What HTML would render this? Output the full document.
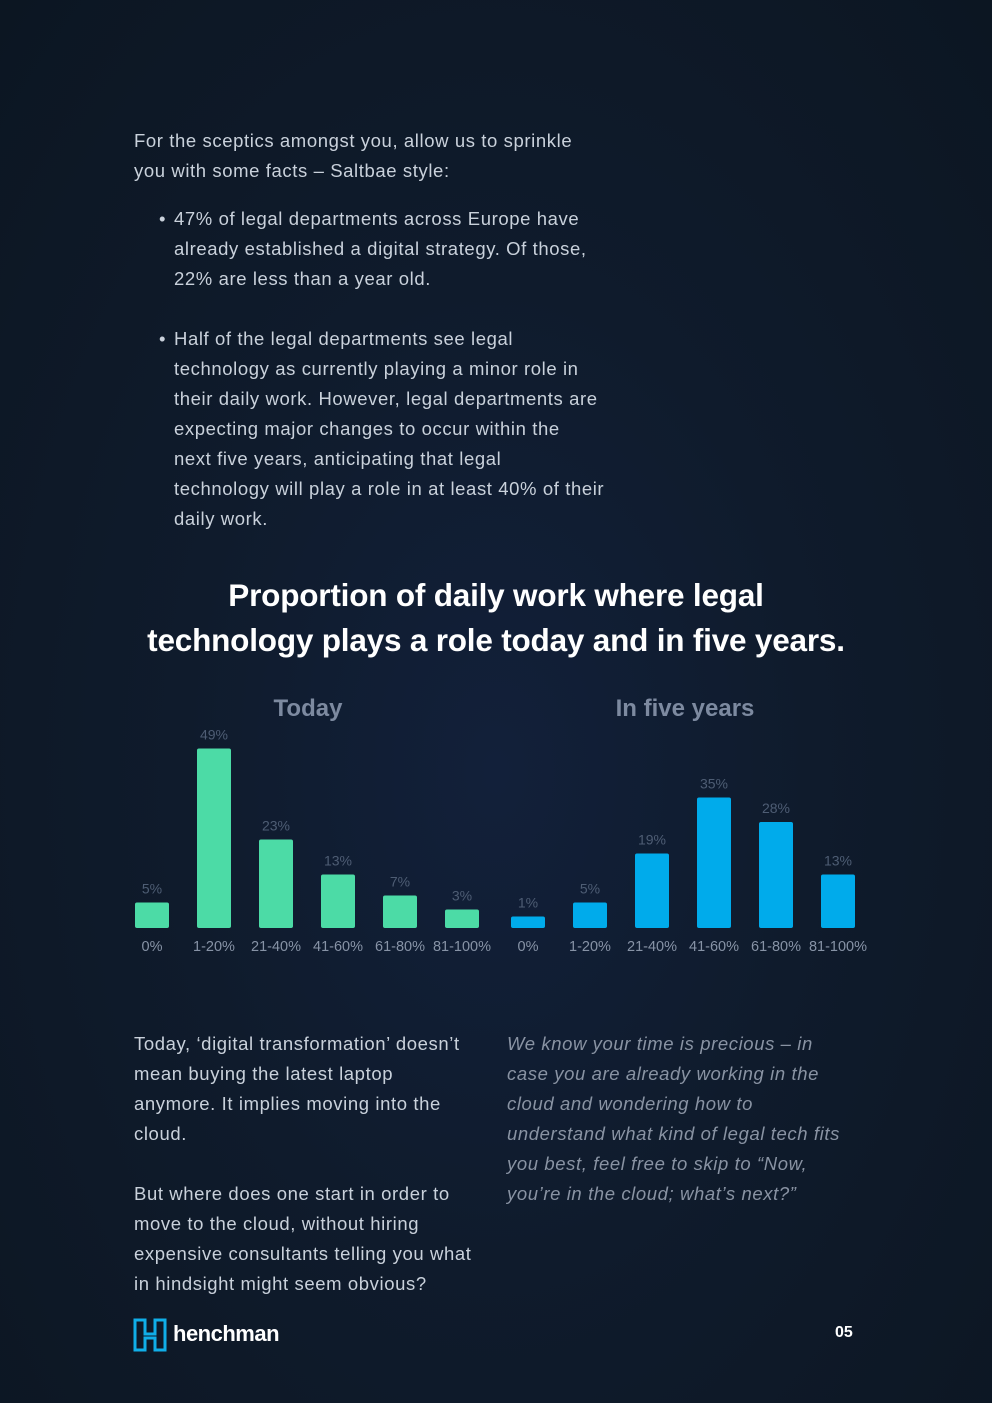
<!DOCTYPE html>
<html><head><meta charset="utf-8"><style>
body{margin:0;width:992px;height:1403px;overflow:hidden;background:radial-gradient(ellipse at 50% 55%,#12203a 0%,#0f1b2c 45%,#0c1622 100%);font-family:"Liberation Sans",sans-serif;color:#c9d1db;position:relative}
.t{position:absolute;font-size:18.5px;line-height:30px;letter-spacing:0.6px;white-space:nowrap}
ul{margin:0;padding:0;list-style:none}
li{position:relative}
li:before{content:"•";position:absolute;left:-15px}
h1{position:absolute;left:0;width:992px;top:573px;margin:0;text-align:center;color:#fff;font-size:31.5px;line-height:45px;font-weight:bold;letter-spacing:-0.2px}
.it{font-style:italic;color:#8993a3}
</style></head><body>
<div class="t" style="left:134px;top:126px">For the sceptics amongst you, allow us to sprinkle<br>you with some facts – Saltbae style:</div>
<ul class="t" style="left:174px;top:204px">
<li>47% of legal departments across Europe have<br>already established a digital strategy. Of those,<br>22% are less than a year old.</li>
<li style="margin-top:30px">Half of the legal departments see legal<br>technology as currently playing a minor role in<br>their daily work. However, legal departments are<br>expecting major changes to occur within the<br>next five years, anticipating that legal<br>technology will play a role in at least 40% of their<br>daily work.</li>
</ul>
<h1>Proportion of daily work where legal<br>technology plays a role today and in five years.</h1>
<svg id="chart" width="992" height="300" style="position:absolute;left:0;top:680px" font-family="Liberation Sans, sans-serif"></svg>
<div class="t" style="left:134px;top:1029px">Today, ‘digital transformation’ doesn’t<br>mean buying the latest laptop<br>anymore. It implies moving into the<br>cloud.<br><br>But where does one start in order to<br>move to the cloud, without hiring<br>expensive consultants telling you what<br>in hindsight might seem obvious?</div>
<div class="t it" style="left:507px;top:1029px">We know your time is precious – in<br>case you are already working in the<br>cloud and wondering how to<br>understand what kind of legal tech fits<br>you best, feel free to skip to “Now,<br>you’re in the cloud; what’s next?”</div>
<svg width="34" height="34" style="position:absolute;left:133px;top:1318px"><g fill="none" stroke="#10aee8" stroke-width="3"><path d="M2 2h10v14h10V2h10v30H22V20H12v12H2z"/></g></svg>
<div style="position:absolute;left:173px;top:1321px;font-size:22px;font-weight:bold;color:#fff;letter-spacing:-0.5px">henchman</div>
<div style="position:absolute;left:835px;top:1324px;font-size:16px;font-weight:bold;color:#fff">05</div>
<script>
const categories=["0%","1-20%","21-40%","41-60%","61-80%","81-100%"];
const todayValues=[5,49,23,13,7,3];
const fiveYearValues=[1,5,19,35,28,13];
const svg=document.getElementById('chart');
const NS='http://www.w3.org/2000/svg';
const base=248;
function yh(v){return 3.5*v+8;}
function mk(tag,attrs,txt){const e=document.createElementNS(NS,tag);for(const k in attrs)e.setAttribute(k,attrs[k]);if(txt!==undefined)e.textContent=txt;svg.appendChild(e);return e;}
function group(title,tx,x0,vals,color,key){
  const t=mk('text',{x:tx,y:36,'text-anchor':'middle','font-size':24,'font-weight':'bold',fill:'#7d8aa0'},title);
  
  
  vals.forEach((v,i)=>{
    const cx=x0+i*62,h=yh(v);
    const r=mk('rect',{x:cx-17,y:base-h,width:34,height:h,rx:2,fill:color});
    
    
    const l=mk('text',{x:cx,y:base-h-9,'text-anchor':'middle','font-size':14,fill:'#4e5d74'},v+'%');
    
    
    const c=mk('text',{x:cx,y:271,'text-anchor':'middle','font-size':14.5,fill:'#8793a6'},categories[i]);
    
    
  });
}
group('Today',308,152,todayValues,'#4cdba6','today');
group('In five years',685,528,fiveYearValues,'#00abeb','five-years');
</script>
</body></html>
